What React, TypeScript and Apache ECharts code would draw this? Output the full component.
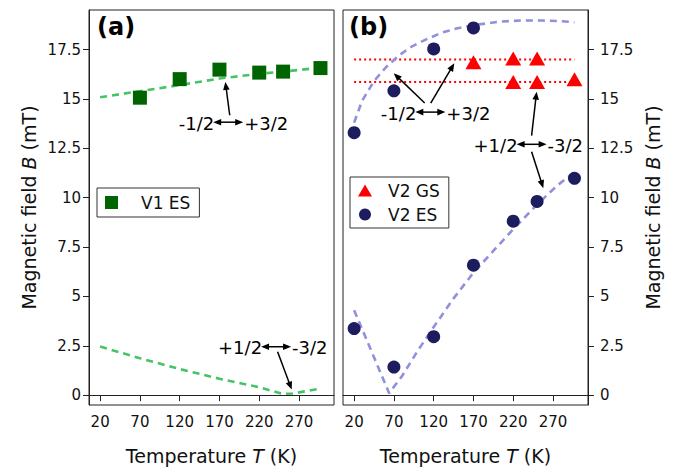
import React, { useEffect, useRef } from "react";
import * as echarts from "echarts";

const FONT = "DejaVu Sans";
const XTICKS = [20, 70, 120, 170, 220, 270];
const YTICKS = [0, 2.5, 5, 7.5, 10, 12.5, 15, 17.5];

// Panel (a): V1
const T_V1 = [70, 120, 170, 220, 250, 297];
const B_V1 = [15.06, 16.0, 16.48, 16.33, 16.38, 16.56];
const T_FIT_A_HI = [20, 70, 120, 170, 220, 250, 297];
const B_FIT_A_HI = [15.08, 15.39, 15.7, 16.03, 16.27, 16.38, 16.58];
const T_FIT_A_LO = [20, 70, 120, 170, 220, 250, 262, 297];
const B_FIT_A_LO = [2.46, 1.87, 1.32, 0.83, 0.4, 0.06, 0.08, 0.33];

// Panel (b): V2
const T_V2_GS = [170, 220, 250, 220, 250, 297];
const B_V2_GS = [16.85, 17.05, 17.05, 15.85, 15.85, 16.0];
const T_V2_ES = [20, 70, 120, 170, 20, 70, 120, 170, 220, 250, 297];
const B_V2_ES = [13.29, 15.41, 17.53, 18.59, 3.37, 1.42, 2.96, 6.58, 8.81, 9.81, 10.98];
const T_GS_LEVEL = [20, 297];
const B_GS_LEVEL_HI = [17.0, 17.0];
const B_GS_LEVEL_LO = [15.85, 15.85];
const T_FIT_B_HI = [20, 30, 45, 60, 75, 90, 110, 130, 150, 175, 205, 230, 256, 281, 297];
const B_FIT_B_HI = [13.8, 14.9, 15.9, 16.6, 17.15, 17.6, 18.0, 18.35, 18.58, 18.76, 18.92, 18.97, 18.97, 18.93, 18.88];
const T_FIT_B_LO = [20, 64, 80, 100, 120, 145, 170, 195, 220, 250, 275, 297];
const B_FIT_B_LO = [4.3, 0.1, 0.95, 2.25, 3.45, 4.9, 6.2, 7.3, 8.4, 9.65, 10.6, 11.3];

// Annotations (data coordinates)
const LABEL_GRID = [0, 0, 1, 1];
const LABEL_AT_T = [181, 241.2, 115.8, 243.1];
const LABEL_AT_B = [13.82, 2.45, 14.33, 12.7];
const LABEL_LEFT = ["-1/2", "+1/2", "-1/2", "+1/2"];
const LABEL_RIGHT = ["+3/2", "-3/2", "+3/2", "-3/2"];

const ARROW_GRID = [0, 0, 1, 1, 1, 1];
const ARROW_FROM_T = [182.9, 243.1, 108.7, 116.3, 243.1, 243.1];
const ARROW_FROM_B = [14.17, 2.2, 14.79, 14.79, 13.14, 12.32];
const ARROW_TO_T = [177.4, 260.8, 69.8, 145.9, 249.4, 257.8];
const ARROW_TO_B = [15.86, 0.28, 16.3, 16.8, 15.36, 10.48];

const zip = (a: number[], b: number[]) => a.map((v, i) => [v, b[i]]);

function arrowEls(p1: number[], p2: number[], both: boolean) {
  const dx = p2[0] - p1[0];
  const dy = p2[1] - p1[1];
  const L = Math.hypot(dx, dy);
  const ux = dx / L;
  const uy = dy / L;
  const px = -uy;
  const py = ux;
  const hl = 8;
  const hw = 3.3;
  const head = (tip: number[], sx: number, sy: number) => ({
    type: "polygon",
    silent: true,
    shape: {
      points: [
        [tip[0], tip[1]],
        [tip[0] - sx * hl + px * hw, tip[1] - sy * hl + py * hw],
        [tip[0] - sx * hl - px * hw, tip[1] - sy * hl - py * hw],
      ],
    },
    style: { fill: "#000" },
    z: 100,
  });
  const s = both ? [p1[0] + ux * hl * 0.7, p1[1] + uy * hl * 0.7] : p1;
  const e = [p2[0] - ux * hl * 0.7, p2[1] - uy * hl * 0.7];
  const els: any[] = [
    {
      type: "line",
      silent: true,
      shape: { x1: s[0], y1: s[1], x2: e[0], y2: e[1] },
      style: { stroke: "#000", lineWidth: 1.5 },
      z: 100,
    },
    head(p2, ux, uy),
  ];
  if (both) els.push(head(p1, -ux, -uy));
  return els;
}

export default function App() {
  const ref = useRef<HTMLDivElement>(null);
  useEffect(() => {
    if (!ref.current) return;
    const chart = echarts.init(ref.current, null, { renderer: "svg" });
    const axisColor = "#222";
    const tickStyle = { color: "#111", fontSize: 15, fontFamily: FONT };
    const xAxisBase = (gi: number) => ({
      gridIndex: gi,
      type: "value",
      min: 6,
      max: 314,
      axisLine: { show: true, lineStyle: { color: axisColor, width: 1 } },
      axisTick: { show: true, length: 6, customValues: XTICKS, lineStyle: { color: axisColor } },
      axisLabel: { ...tickStyle, margin: 9, customValues: XTICKS },
      splitLine: { show: false },
      name: "Temperature {i|T} (K)",
      nameLocation: "middle",
      nameGap: 41,
      nameTextStyle: {
        fontSize: 19,
        fontFamily: FONT,
        color: "#111",
        rich: { i: { fontSize: 19, fontFamily: FONT, fontStyle: "italic", color: "#111" } },
      },
    });
    const yAxisBase = (gi: number, pos: string, gap: number, margin: number) => ({
      gridIndex: gi,
      type: "value",
      position: pos,
      min: -0.5,
      max: 19.5,
      axisLine: { show: true, lineStyle: { color: axisColor, width: 1 } },
      axisTick: { show: true, length: 6, customValues: YTICKS, lineStyle: { color: axisColor } },
      axisLabel: { ...tickStyle, margin, customValues: YTICKS },
      splitLine: { show: false },
      name: "Magnetic field {i|B} (mT)",
      nameLocation: "middle",
      nameRotate: 90,
      nameGap: gap,
      nameTextStyle: {
        fontSize: 19,
        fontFamily: FONT,
        color: "#111",
        rich: { i: { fontSize: 19, fontFamily: FONT, fontStyle: "italic", color: "#111" } },
      },
    });
    const dashLine = (name: string, gi: number, data: number[][], color: string) => ({
      name,
      type: "line",
      xAxisIndex: gi,
      yAxisIndex: gi,
      data,
      symbol: "none",
      showSymbol: false,
      silent: true,
      z: 1,
      lineStyle: { color, width: 2.6, type: [7, 5] },
    });
    const dotLine = (name: string, data: number[][]) => ({
      name,
      type: "line",
      xAxisIndex: 1,
      yAxisIndex: 1,
      data,
      symbol: "none",
      showSymbol: false,
      silent: true,
      z: 1,
      lineStyle: { color: "#ff0000", width: 2, type: [2, 3] },
    });
    const option: any = {
      animation: false,
      backgroundColor: "#fff",
      textStyle: { fontFamily: FONT },
      grid: [
        { left: 89, top: 10, width: 245, height: 399, show: true, borderColor: axisColor, borderWidth: 1, backgroundColor: "transparent" },
        { left: 343, top: 10, width: 245, height: 399, show: true, borderColor: axisColor, borderWidth: 1, backgroundColor: "transparent" },
      ],
      xAxis: [xAxisBase(0), xAxisBase(1)],
      yAxis: [yAxisBase(0, "left", 51, 8), yAxisBase(1, "right", 55, 12)],
      legend: [
        {
          data: ["V1 ES"],
          left: 97,
          top: 188,
          padding: [6, 9, 6, 8],
          itemWidth: 13,
          itemHeight: 13,
          borderColor: "#333",
          borderWidth: 1,
          borderRadius: 0,
          backgroundColor: "#fff",
          textStyle: { fontSize: 17, fontFamily: FONT, color: "#111", padding: [0, 0, 0, 18] },
        },
        {
          data: ["V2 GS", "V2 ES"],
          orient: "vertical",
          left: 350,
          top: 177,
          padding: [5, 9, 5, 8],
          itemGap: 7,
          itemWidth: 14,
          itemHeight: 12,
          borderColor: "#333",
          borderWidth: 1,
          borderRadius: 0,
          backgroundColor: "#fff",
          textStyle: { fontSize: 17, fontFamily: FONT, color: "#111", padding: [0, 0, 0, 11] },
        },
      ],
      series: [
        dashLine("fitA1", 0, zip(T_FIT_A_HI, B_FIT_A_HI), "#45c465"),
        dashLine("fitA2", 0, zip(T_FIT_A_LO, B_FIT_A_LO), "#45c465"),
        {
          name: "V1 ES",
          type: "scatter",
          xAxisIndex: 0,
          yAxisIndex: 0,
          data: zip(T_V1, B_V1),
          symbol: "rect",
          symbolSize: 14,
          itemStyle: { color: "#006400", opacity: 1 },
          z: 3,
        },
        dotLine("lvl1", zip(T_GS_LEVEL, B_GS_LEVEL_HI)),
        dotLine("lvl2", zip(T_GS_LEVEL, B_GS_LEVEL_LO)),
        dashLine("fitB1", 1, zip(T_FIT_B_HI, B_FIT_B_HI), "#9090dc"),
        dashLine("fitB2", 1, zip(T_FIT_B_LO, B_FIT_B_LO), "#9090dc"),
        {
          name: "V2 GS",
          type: "scatter",
          xAxisIndex: 1,
          yAxisIndex: 1,
          data: zip(T_V2_GS, B_V2_GS),
          symbol: "triangle",
          symbolSize: [16, 14],
          itemStyle: { color: "#ff0000", opacity: 1 },
          z: 3,
        },
        {
          name: "V2 ES",
          type: "scatter",
          xAxisIndex: 1,
          yAxisIndex: 1,
          data: zip(T_V2_ES, B_V2_ES),
          symbol: "circle",
          symbolSize: 13,
          itemStyle: { color: "#1c1c5e", opacity: 1 },
          z: 3,
        },
      ],
    };
    chart.setOption(option);

    const els: any[] = [
      { type: "text", left: 97, top: 15, silent: true, style: { text: "(a)", fontSize: 24, fontWeight: "bold", fontFamily: FONT, fill: "#000" }, z: 100 },
      { type: "text", left: 349, top: 15, silent: true, style: { text: "(b)", fontSize: 24, fontWeight: "bold", fontFamily: FONT, fill: "#000" }, z: 100 },
    ];
    LABEL_GRID.forEach((g, i) => {
      const p = chart.convertToPixel({ gridIndex: g } as any, [LABEL_AT_T[i], LABEL_AT_B[i]]) as number[];
      els.push({
        type: "text",
        x: p[0] - 14,
        y: p[1] + 1,
        silent: true,
        style: { text: LABEL_LEFT[i], fontSize: 18, fontFamily: FONT, fill: "#000", align: "right", verticalAlign: "middle" },
        z: 100,
      });
      els.push({
        type: "text",
        x: p[0] + 16,
        y: p[1] + 1,
        silent: true,
        style: { text: LABEL_RIGHT[i], fontSize: 18, fontFamily: FONT, fill: "#000", align: "left", verticalAlign: "middle" },
        z: 100,
      });
      els.push(...arrowEls([p[0] - 15, p[1]], [p[0] + 15, p[1]], true));
    });
    ARROW_GRID.forEach((g, i) => {
      const a = chart.convertToPixel({ gridIndex: g } as any, [ARROW_FROM_T[i], ARROW_FROM_B[i]]) as number[];
      const b = chart.convertToPixel({ gridIndex: g } as any, [ARROW_TO_T[i], ARROW_TO_B[i]]) as number[];
      els.push(...arrowEls(a, b, false));
    });
    chart.setOption({ graphic: els });

    return () => chart.dispose();
  }, []);
  return (
    <div
      ref={ref}
      style={{ position: "fixed", left: 0, top: 0, width: 681, height: 470, background: "#fff" }}
    />
  );
}
